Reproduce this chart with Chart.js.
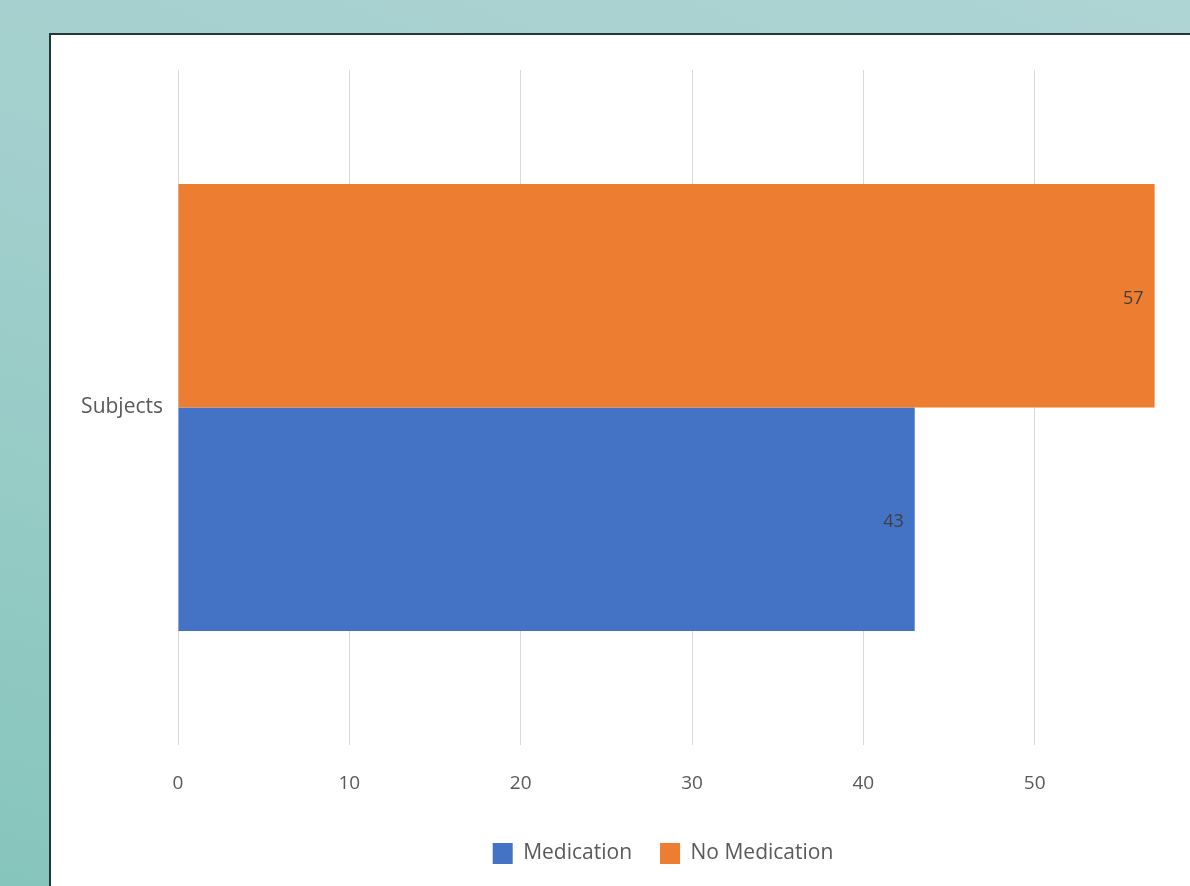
<!DOCTYPE html>
<html>
<head>
<meta charset="utf-8">
<script src="https://cdn.jsdelivr.net/npm/chart.js@4.4.0/dist/chart.umd.min.js"></script>
<style>
  html, body { margin: 0; padding: 0; width: 1190px; height: 886px; overflow: hidden; }
  body { background: linear-gradient(200deg, #aed4d4 0%, #a2cfcd 45%, #86c5bc 100%); position: relative; }
  #panel { position: absolute; left: 49px; top: 33px; width: 1200px; height: 900px; background: #fff;
           border-left: 2px solid #263636; border-top: 2px solid #263636; }
  #c { position: absolute; left: 50px; top: 35px; }
</style>
</head>
<body>
<div id="panel"></div>
<canvas id="c" width="1226" height="851"></canvas>
<script>
const categories = ["Subjects"];
const seriesNames = ["No Medication", "Medication"];
const noMedication = [57];
const medication = [43];
const xTicks = [0, 10, 20, 30, 40, 50, 60];

const labelPlugin = {
  id: 'valueLabels',
  afterLayout(chart) {
    // centre the legend on the whole panel rather than on the padded layout box
    if (chart.legend) chart.legend.left += 70;
  },
  afterDatasetsDraw(chart) {
    const ctx = chart.ctx;
    ctx.save();
    ctx.font = '18px "Open Sans", sans-serif';
    ctx.fillStyle = '#404040';
    ctx.textAlign = 'right';
    ctx.textBaseline = 'middle';
    chart.data.datasets.forEach((ds, i) => {
      chart.getDatasetMeta(i).data.forEach((bar, j) => {
        ctx.fillText(String(ds.data[j]), bar.x - 11, bar.y + 3);
      });
    });
    ctx.restore();
  }
};

new Chart(document.getElementById('c'), {
  type: 'bar',
  data: {
    labels: categories,
    datasets: [
      { label: seriesNames[0], data: noMedication, backgroundColor: '#ed7d31' },
      { label: seriesNames[1], data: medication, backgroundColor: '#4472c4' }
    ]
  },
  options: {
    indexAxis: 'y',
    responsive: false,
    animation: false,
    layout: { padding: { left: 0, top: 35, right: 70, bottom: 12 } },
    datasets: { bar: { barPercentage: 1, categoryPercentage: 0.662 } },
    scales: {
      x: {
        min: xTicks[0], max: xTicks[xTicks.length - 1],
        afterBuildTicks(s) { s.ticks = xTicks.map(v => ({ value: v })); },
        afterFit(s) { s.height = 70; },
        grid: { color: '#d9d9d9', lineWidth: 1, drawTicks: false },
        border: { display: false },
        ticks: { padding: 27, color: '#595959', font: { family: '"Open Sans", sans-serif', size: 19 } }
      },
      y: {
        afterFit(s) { s.width = 128; },
        grid: { display: false, drawTicks: false },
        border: { display: false },
        ticks: { padding: 15, color: '#595959', font: { family: '"Open Sans", sans-serif', size: 21 } }
      }
    },
    plugins: {
      legend: {
        position: 'bottom',
        reverse: true,
        labels: { boxWidth: 20, boxHeight: 21, padding: 28, color: '#595959',
                  font: { family: '"Open Sans", sans-serif', size: 21 } }
      },
      tooltip: { enabled: false }
    }
  },
  plugins: [labelPlugin]
});
</script>
</body>
</html>
